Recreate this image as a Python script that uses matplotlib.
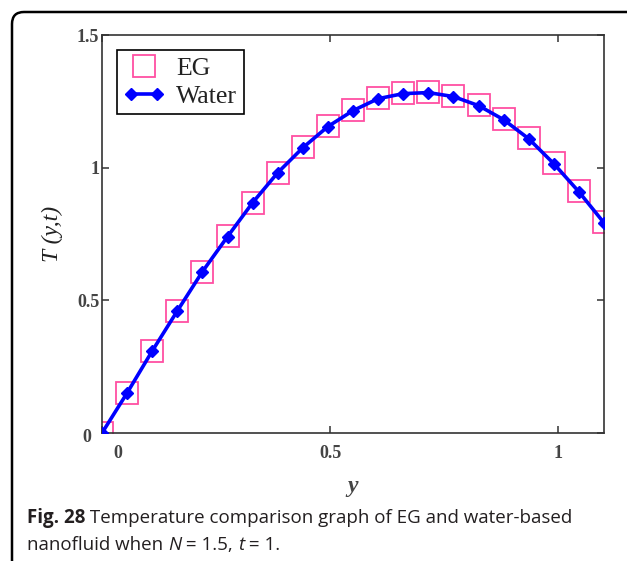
import matplotlib.pyplot as plt
import matplotlib.transforms as mtransforms
from matplotlib.patches import FancyBboxPatch
from matplotlib.legend_handler import HandlerLine2D

# y positions and temperature profiles
y_pos = [0.0, 0.055, 0.11, 0.165, 0.22, 0.275, 0.33, 0.385, 0.44, 0.495, 0.55,
         0.605, 0.66, 0.715, 0.77, 0.825, 0.88, 0.935, 0.99, 1.045, 1.1]
temp_eg = [0.0, 0.152, 0.310, 0.461, 0.608, 0.741, 0.868, 0.981, 1.077, 1.157, 1.217,
           1.262, 1.282, 1.284, 1.270, 1.236, 1.183, 1.111, 1.017, 0.913, 0.795]
temp_water = [0.0, 0.151, 0.309, 0.460, 0.608, 0.740, 0.868, 0.981, 1.075, 1.155, 1.215,
              1.260, 1.279, 1.283, 1.268, 1.234, 1.181, 1.109, 1.015, 0.909, 0.792]

x_ticks = [0, 0.5, 1]
y_ticks = [0, 0.5, 1, 1.5]

W, H = 627, 561
fig = plt.figure(figsize=(W / 100, H / 100), dpi=100)
ax = fig.add_axes([102 / W, 1 - 433 / H, (604 - 102) / W, (433 - 35) / H])

eg_line, = ax.plot(y_pos, temp_eg, linestyle='none', marker='s', markersize=16.5,
                   markerfacecolor='none', markeredgecolor='#ff4fa3', markeredgewidth=1.3,
                   label='EG', zorder=2)
water_line, = ax.plot(y_pos, temp_water, color='#0000ff', linewidth=2.6, marker='D',
                      markersize=6.5, markerfacecolor='#0000ff', markeredgecolor='#0000ff',
                      label='Water', zorder=3)

ax.set_xlim(0, 1.1)
ax.set_ylim(0, 1.5)
ax.set_xticks(x_ticks)
ax.set_yticks(y_ticks)
ax.set_xticklabels(['0', '0.5', '1'])
ax.set_yticklabels(['0', '0.5', '1', '1.5'])

for s in ax.spines.values():
    s.set_color('#333333')
    s.set_linewidth(1.2)

ax.tick_params(direction='in', length=5, width=1.1, color='#333333',
               top=True, right=True, labelcolor='#444444')
ax.tick_params(axis='x', pad=9)
ax.tick_params(axis='y', pad=2)
for lab in ax.get_xticklabels() + ax.get_yticklabels():
    lab.set_fontfamily('Liberation Serif')
    lab.set_fontsize(13)
    lab.set_fontweight('bold')

# nudge the two zero labels away from the corner
xl0 = ax.get_xticklabels()[0]
xl0.set_transform(xl0.get_transform() + mtransforms.ScaledTranslation(16 / 100, 0, fig.dpi_scale_trans))
yl0 = ax.get_yticklabels()[0]
yl0.set_transform(yl0.get_transform() + mtransforms.ScaledTranslation(-8 / 100, -3 / 100, fig.dpi_scale_trans))

ax.set_xlabel('y', fontfamily='Liberation Serif', fontstyle='italic', fontweight='bold',
              fontsize=17, color='#444444', labelpad=10)
ax.set_ylabel('T (y,t)', fontfamily='Liberation Serif', fontstyle='italic',
              fontsize=17, color='#222222', labelpad=10)

leg = ax.legend(loc='upper left', bbox_to_anchor=(0.03, 0.962), borderaxespad=0,
                prop=dict(family='Liberation Serif', size=18.5), fancybox=False,
                edgecolor='black', framealpha=1, handlelength=1.6,
                handletextpad=0.45, borderpad=0.25, labelspacing=0.2,
                handler_map={eg_line: HandlerLine2D(numpoints=1),
                             water_line: HandlerLine2D(numpoints=2)})
leg.get_frame().set_linewidth(1.2)
for t in leg.get_texts():
    t.set_color('#222222')

# rounded frame round the figure
frame = FancyBboxPatch((0.12, -0.3), 6.6, 5.79, boxstyle='round,pad=0,rounding_size=0.12',
                       transform=fig.dpi_scale_trans, facecolor='none',
                       edgecolor='black', linewidth=1.8, clip_on=False)
fig.add_artist(frame)

# caption
cap_color = '#231f20'
cap_size = 13.5
fig.canvas.draw()
renderer = fig.canvas.get_renderer()

def caption_line(parts, x_px, y_px):
    x = x_px
    for text, style in parts:
        t = fig.text(x / W, 1 - y_px / H, text, fontfamily='Open Sans', fontsize=cap_size,
                     color=cap_color, fontweight=style.get('weight', 'normal'),
                     fontstyle=style.get('style', 'normal'), va='baseline', ha='left')
        bb = t.get_window_extent(renderer=renderer)
        x += bb.width

caption_line([('Fig. 28', {'weight': 'bold'}),
              (' Temperature comparison graph of EG and water-based', {})], 27, 523)
caption_line([('nanofluid when ', {}), ('N', {'style': 'italic'}), (' = 1.5, ', {}),
              ('t', {'style': 'italic'}), (' = 1.', {})], 27, 550)

fig.savefig('out.png', dpi=100)
